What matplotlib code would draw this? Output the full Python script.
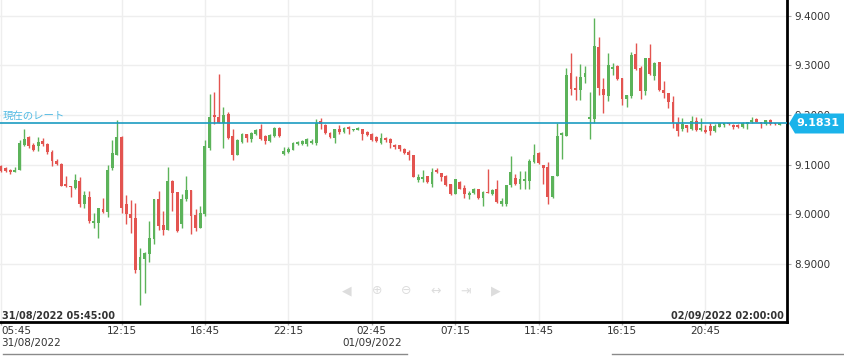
import numpy as np
import matplotlib.pyplot as plt
from matplotlib.patches import Polygon
from matplotlib.lines import Line2D

# 15 minute candles
opens = [9.098, 9.093, 9.090, 9.086, 9.090, 9.140, 9.155, 9.139, 9.137, 9.147,
         9.141, 9.125, 9.108, 9.102, 9.062, 9.058, 9.053, 9.068, 9.020, 9.035,
         8.983, 8.982, 9.011, 9.005, 9.093, 9.120, 9.155, 9.020, 9.001, 8.993,
         8.887, 8.909, 8.920, 8.950, 9.030, 8.978, 8.969, 9.068, 9.045, 8.980,
         9.030, 9.050, 8.998, 8.973, 9.000, 9.133, 9.200, 9.197, 9.185, 9.202,
         9.157, 9.120, 9.145, 9.162, 9.151, 9.162, 9.172, 9.157, 9.147, 9.157,
         9.175, 9.121, 9.125, 9.130, 9.141, 9.142, 9.142, 9.143, 9.143, 9.189,
         9.181, 9.164, 9.154, 9.171, 9.165, 9.177, 9.169, 9.170, 9.172, 9.165,
         9.162, 9.155, 9.143, 9.153, 9.152, 9.140, 9.140, 9.132, 9.126, 9.119,
         9.069, 9.071, 9.077, 9.061, 9.089, 9.083, 9.078, 9.061, 9.041, 9.066,
         9.054, 9.039, 9.043, 9.051, 9.032, 9.046, 9.040, 9.051, 9.021, 9.021,
         9.059, 9.073, 9.061, 9.068, 9.068, 9.106, 9.123, 9.099, 9.095, 9.034,
         9.077, 9.160, 9.158, 9.285, 9.254, 9.251, 9.277, 9.192, 9.192, 9.337,
         9.252, 9.238, 9.293, 9.298, 9.274, 9.233, 9.239, 9.323, 9.295, 9.248,
         9.315, 9.278, 9.308, 9.251, 9.244, 9.226, 9.184, 9.172, 9.181, 9.172,
         9.189, 9.170, 9.170, 9.179, 9.167, 9.177, 9.181, 9.184, 9.181, 9.180,
         9.176, 9.182, 9.186, 9.193, 9.187, 9.182, 9.191, 9.184, 9.181]
highs = [9.099, 9.095, 9.091, 9.095, 9.150, 9.173, 9.157, 9.143, 9.155, 9.153,
         9.143, 9.129, 9.111, 9.103, 9.077, 9.058, 9.081, 9.075, 9.047, 9.047,
         9.002, 9.013, 9.033, 9.100, 9.149, 9.190, 9.157, 9.038, 9.028, 9.023,
         8.933, 8.925, 8.987, 9.031, 9.047, 9.007, 9.095, 9.070, 9.045, 9.040,
         9.077, 9.050, 9.010, 9.017, 9.150, 9.242, 9.247, 9.282, 9.217, 9.207,
         9.173, 9.152, 9.164, 9.162, 9.165, 9.173, 9.182, 9.159, 9.162, 9.177,
         9.177, 9.135, 9.135, 9.145, 9.147, 9.150, 9.153, 9.152, 9.193, 9.195,
         9.182, 9.165, 9.172, 9.180, 9.177, 9.179, 9.173, 9.177, 9.172, 9.167,
         9.164, 9.157, 9.164, 9.155, 9.153, 9.141, 9.140, 9.133, 9.129, 9.119,
         9.081, 9.089, 9.078, 9.093, 9.093, 9.083, 9.079, 9.062, 9.072, 9.068,
         9.059, 9.047, 9.054, 9.052, 9.048, 9.091, 9.052, 9.069, 9.032, 9.059,
         9.117, 9.081, 9.087, 9.088, 9.111, 9.142, 9.126, 9.099, 9.106, 9.078,
         9.184, 9.165, 9.295, 9.325, 9.278, 9.303, 9.299, 9.246, 9.395, 9.357,
         9.274, 9.325, 9.305, 9.301, 9.274, 9.241, 9.328, 9.345, 9.298, 9.315,
         9.344, 9.308, 9.308, 9.268, 9.244, 9.239, 9.196, 9.194, 9.181, 9.199,
         9.196, 9.194, 9.180, 9.185, 9.183, 9.185, 9.185, 9.185, 9.183, 9.182,
         9.187, 9.187, 9.197, 9.194, 9.187, 9.191, 9.192, 9.185, 9.184]
lows = [9.085, 9.086, 9.082, 9.085, 9.089, 9.137, 9.133, 9.128, 9.127, 9.137,
        9.121, 9.098, 9.099, 9.057, 9.055, 9.035, 9.051, 9.015, 9.013, 8.983,
        8.973, 8.953, 9.003, 8.995, 9.089, 9.120, 9.003, 8.980, 8.963, 8.882,
        8.818, 8.841, 8.903, 8.940, 8.969, 8.959, 8.969, 9.007, 8.965, 8.972,
        9.027, 8.960, 8.967, 8.972, 8.997, 9.129, 9.182, 9.184, 9.133, 9.152,
        9.109, 9.119, 9.144, 9.145, 9.145, 9.159, 9.150, 9.142, 9.145, 9.155,
        9.155, 9.119, 9.124, 9.129, 9.140, 9.139, 9.137, 9.142, 9.140, 9.171,
        9.162, 9.154, 9.144, 9.162, 9.163, 9.162, 9.167, 9.169, 9.149, 9.157,
        9.147, 9.145, 9.142, 9.145, 9.133, 9.132, 9.127, 9.121, 9.110, 9.075,
        9.066, 9.066, 9.064, 9.056, 9.083, 9.068, 9.057, 9.038, 9.040, 9.051,
        9.032, 9.031, 9.041, 9.031, 9.016, 9.043, 9.038, 9.022, 9.016, 9.016,
        9.056, 9.059, 9.051, 9.051, 9.052, 9.103, 9.101, 9.061, 9.021, 9.033,
        9.077, 9.111, 9.157, 9.241, 9.231, 9.231, 9.264, 9.152, 9.185, 9.241,
        9.204, 9.228, 9.281, 9.271, 9.221, 9.216, 9.234, 9.291, 9.233, 9.240,
        9.281, 9.271, 9.248, 9.234, 9.214, 9.174, 9.157, 9.167, 9.166, 9.170,
        9.167, 9.168, 9.164, 9.160, 9.165, 9.176, 9.177, 9.180, 9.173, 9.175,
        9.174, 9.172, 9.185, 9.186, 9.174, 9.180, 9.180, 9.180, 9.180]
closes = [9.088, 9.088, 9.085, 9.090, 9.143, 9.151, 9.137, 9.130, 9.145, 9.141,
          9.125, 9.107, 9.102, 9.058, 9.057, 9.055, 9.070, 9.020, 9.038, 8.987,
          8.987, 9.012, 9.005, 9.090, 9.123, 9.155, 9.012, 9.000, 8.993, 8.887,
          8.915, 8.923, 8.953, 9.031, 8.977, 8.969, 9.067, 9.043, 8.967, 9.030,
          9.050, 8.997, 8.973, 9.003, 9.138, 9.197, 9.197, 9.185, 9.200, 9.153,
          9.120, 9.150, 9.162, 9.154, 9.164, 9.170, 9.152, 9.147, 9.160, 9.175,
          9.157, 9.127, 9.132, 9.143, 9.145, 9.147, 9.152, 9.147, 9.185, 9.183,
          9.164, 9.155, 9.171, 9.165, 9.175, 9.171, 9.172, 9.174, 9.162, 9.160,
          9.149, 9.147, 9.153, 9.149, 9.144, 9.135, 9.132, 9.123, 9.119, 9.076,
          9.076, 9.076, 9.066, 9.086, 9.086, 9.076, 9.059, 9.041, 9.071, 9.052,
          9.041, 9.044, 9.051, 9.032, 9.046, 9.043, 9.050, 9.024, 9.027, 9.059,
          9.086, 9.061, 9.071, 9.071, 9.108, 9.119, 9.103, 9.093, 9.034, 9.078,
          9.158, 9.163, 9.281, 9.252, 9.251, 9.277, 9.285, 9.197, 9.340, 9.254,
          9.241, 9.300, 9.296, 9.273, 9.232, 9.241, 9.321, 9.293, 9.248, 9.315,
          9.283, 9.306, 9.250, 9.244, 9.226, 9.184, 9.167, 9.183, 9.174, 9.189,
          9.170, 9.174, 9.166, 9.167, 9.179, 9.184, 9.184, 9.182, 9.176, 9.177,
          9.185, 9.186, 9.191, 9.187, 9.182, 9.191, 9.182, 9.182, 9.1831]

current_rate = 9.1831
tick_idx = [0, 26, 44, 62, 80, 98, 116, 134, 152]
tick_times = ["05:45", "12:15", "16:45", "22:15", "02:45", "07:15", "11:45", "16:15", "20:45"]
tick_dates = ["31/08/2022", "", "", "", "01/09/2022", "", "", "", ""]
price_ticks = [8.9, 9.0, 9.1, 9.2, 9.3, 9.4]
start_label = "31/08/2022 05:45:00"
end_label = "02/09/2022 02:00:00"

up_col = '#5cb35a'
down_col = '#e35450'
line_col = '#1b9cc1'

o = np.array(opens)
h = np.array(highs)
l = np.array(lows)
c = np.array(closes)
x = np.arange(len(o))
cols = np.where(c >= o, up_col, down_col)

fig = plt.figure(figsize=(8.45, 3.56), dpi=100)
ax = fig.add_axes([0, 34/356, 787/845, 322/356])

ax.vlines(x, l, h, colors=cols, lw=1, zorder=3)
ax.bar(x, np.maximum(np.abs(c - o), 0.0015), bottom=np.minimum(o, c),
       width=0.62, color=cols, zorder=4, linewidth=0)

ax.set_xlim(-0.22, 169.6)
ax.set_ylim(8.783, 9.432)

ax.axhline(current_rate, color=line_col, lw=1.2, zorder=5)
ax.text(0.004, current_rate + 0.006, "現在のレート", transform=ax.get_yaxis_transform(),
        fontsize=7.5, color='#55bce4', va='bottom', ha='left',
        family=['Noto Sans CJK JP', 'DejaVu Sans'])

# grid
ax.set_yticks(price_ticks)
ax.set_yticklabels([f"{p:.4f}" for p in price_ticks])
ax.yaxis.tick_right()
ax.tick_params(axis='y', length=3, width=0.8, color='#aaaaaa', labelsize=7.5,
               labelcolor='#333333', pad=2)
labels = [t + ("\n" + d if d else "") for t, d in zip(tick_times, tick_dates)]
ax.set_xticks(tick_idx)
ax.set_xticklabels(labels)
ax.tick_params(axis='x', length=2, width=1, color='#aaaaaa', labelsize=7.5,
               labelcolor='#333333', pad=1)
first = ax.get_xticklabels()[0]
first.set_ha('left')
first.set_multialignment('left')
for lab in ax.get_xticklabels()[1:]:
    lab.set_multialignment('center')
ax.grid(True, color='#eeeeee', lw=1, zorder=0)
ax.set_axisbelow(True)

for s in ['top', 'left']:
    ax.spines[s].set_visible(False)
for s in ['bottom', 'right']:
    ax.spines[s].set_color('black')
    ax.spines[s].set_linewidth(2)

ax.text(0.003, 0.004, start_label, transform=ax.transAxes, fontsize=7,
        weight='bold', color='#333333', va='bottom', ha='left')
ax.text(0.996, 0.004, end_label, transform=ax.transAxes, fontsize=7,
        weight='bold', color='#333333', va='bottom', ha='right')

# price box on the right axis
fig.canvas.draw()
ymid = ax.transData.transform((0, current_rate))[1] / 356
hh = 10 / 356
x0 = 789 / 845
x1 = 795 / 845
box = Polygon([(x0, ymid), (x1, ymid + hh), (1.0, ymid + hh), (1.0, ymid - hh), (x1, ymid - hh)],
              closed=True, transform=fig.transFigure, fc='#1ab3ea', ec='none', zorder=10)
fig.patches.append(box)
fig.text(818 / 845, ymid, f"{current_rate:.4f}", color='white', weight='bold',
         fontsize=8, ha='center', va='center', zorder=11)

# navigator icons (faint)
for px, g in [(347, '◀'), (377, '⊕'), (406, '⊖'), (436, '↔'), (466, '⇥'), (496, '▶')]:
    fig.text(px / 845, 1 - 291 / 356, g, color='#dddddd', fontsize=9, ha='center', va='center')

# scrollbar lines
fig.add_artist(Line2D([3 / 845, 407 / 845], [2 / 356, 2 / 356], color='#8a8a8a', lw=1))
fig.add_artist(Line2D([612 / 845, 1.0], [2 / 356, 2 / 356], color='#8a8a8a', lw=1))

fig.savefig('out.png', dpi=100)
